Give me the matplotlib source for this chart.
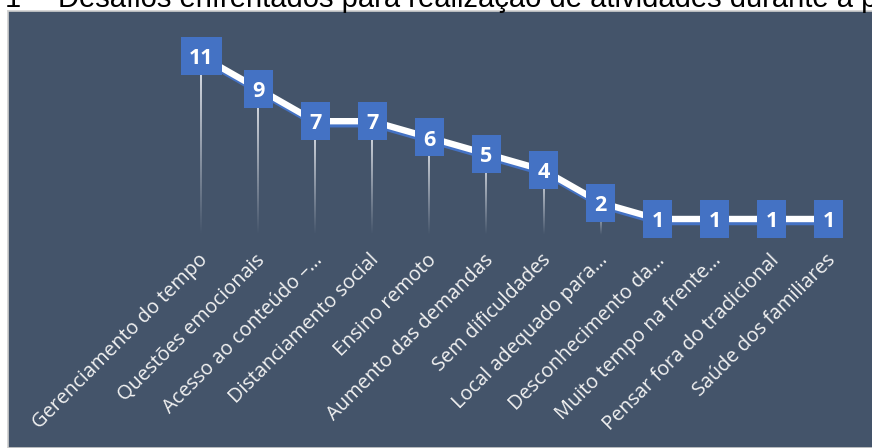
import numpy as np
import matplotlib
matplotlib.use("Agg")
import matplotlib.pyplot as plt
import matplotlib.patheffects as pe
import matplotlib.transforms as mtransforms
from matplotlib.patches import Rectangle

categories = [
    "Gerenciamento do tempo",
    "Questões emocionais",
    "Acesso ao conteúdo –…",
    "Distanciamento social",
    "Ensino remoto",
    "Aumento das demandas",
    "Sem dificuldades",
    "Local adequado para…",
    "Desconhecimento da…",
    "Muito tempo na frente…",
    "Pensar fora do tradicional",
    "Saúde dos familiares",
]
counts = [11, 9, 7, 7, 6, 5, 4, 2, 1, 1, 1, 1]
title = "Desafios enfrentados para realização de atividades durante a pandemia"

W, H, DPI = 872, 448, 100
BG = "#44546A"
BLUE = "#4472C4"

fig = plt.figure(figsize=(W / DPI, H / DPI), dpi=DPI)
fig.patch.set_facecolor("white")

# dark chart panel with a thin light border
panel = fig.add_axes([8 / W, 0, 1, (H - 11) / H], zorder=-5)
panel.set_facecolor(BG)
panel.set_xticks([])
panel.set_yticks([])
for side, sp in panel.spines.items():
    sp.set_color("#D0D0D0")
    sp.set_linewidth(1.2)

# caption above the panel (runs past the right edge)
fig.text(5 / W, 1 - 7 / H, "1", family="Liberation Sans", fontsize=21,
         color="black", va="baseline", ha="left")
fig.text(58 / W, 1 - 7 / H, title, family="Liberation Sans", fontsize=21,
         color="black", va="baseline", ha="left")

ax = fig.add_axes([0, 0, 1, 1])
ax.set_facecolor("none")
ax.axis("off")
step = 57.09
x0 = 201
unit = 16.3
zero_px = 235.3
xlim = (-x0 / step, (W - x0) / step)
ylim = (-(H - zero_px) / unit, zero_px / unit)

x = np.arange(len(counts))
y = np.array(counts, dtype=float)

# drop lines fading from light to transparent toward zero
grad = np.zeros((100, 1, 4))
grad[..., 0] = 0.93
grad[..., 1] = 0.94
grad[..., 2] = 0.96
grad[:, 0, 3] = np.linspace(0.95, 0.0, 100)
half = 1.0 / step
for xi, yi in zip(x, y):
    ax.imshow(grad, extent=[xi - half, xi + half, 0, yi], origin="upper",
              aspect="auto", interpolation="bilinear", zorder=2)

# main line with blue shadow
ax.plot(x, y, color="white", lw=4.6, solid_joinstyle="round", solid_capstyle="round", zorder=3,
        path_effects=[pe.SimpleLineShadow(offset=(1.0, -2.2), shadow_color=BLUE, alpha=1.0),
                      pe.Normal()])

# value boxes
for xi, yi, v in zip(x, y, counts):
    s = str(v)
    w = 17 + 12 * len(s)
    h = 38
    tr = fig.dpi_scale_trans + mtransforms.ScaledTranslation(xi, yi, ax.transData)
    ax.add_patch(Rectangle((-w / 2 / DPI, -h / 2 / DPI), w / DPI, h / DPI,
                           transform=tr, facecolor=BLUE, edgecolor="none", zorder=4))
    ax.text(xi, yi, s, ha="center", va="center_baseline", color="white",
            fontsize=15.5, fontweight="bold", family="Open Sans", zorder=5)

# rotated category labels
lab_tr = mtransforms.offset_copy(ax.transData, fig=fig, x=-3, y=-15, units="dots")
for xi, lab in zip(x, categories):
    ax.text(xi, 0, lab, rotation=45, rotation_mode="anchor", ha="right", va="top",
            color="#F2F2F2", fontsize=14.3, family="Open Sans", transform=lab_tr, zorder=5)

ax.set_xlim(*xlim)
ax.set_ylim(*ylim)

fig.savefig("out.png", dpi=DPI, facecolor=fig.get_facecolor())
